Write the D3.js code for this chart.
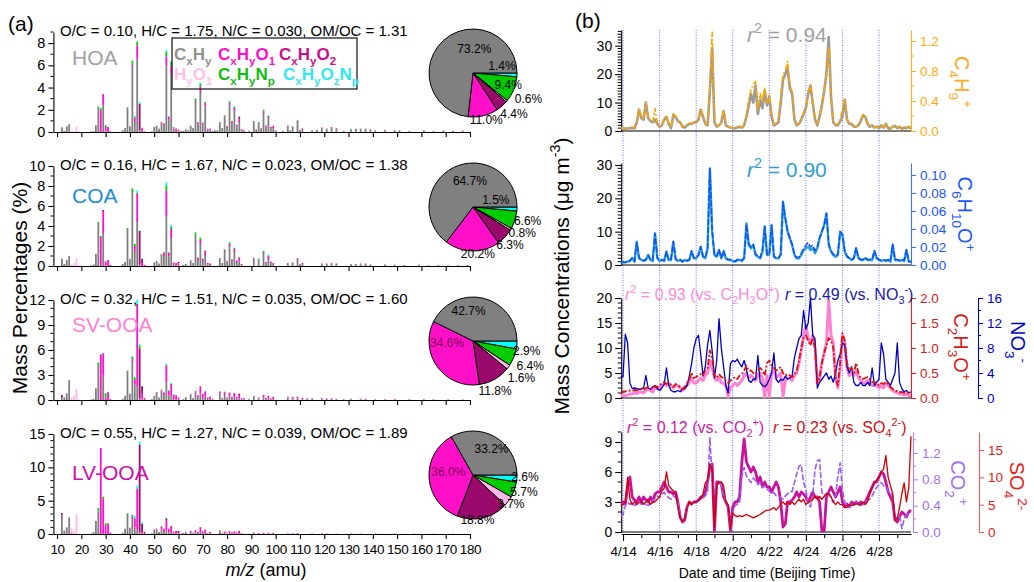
<!DOCTYPE html>
<html>
<head>
<meta charset="utf-8">
<script src="https://cdn.jsdelivr.net/npm/d3@7"></script>
<style>
html,body{margin:0;padding:0;background:#fff;}
svg text{font-family:"Liberation Sans",Arial,Helvetica,sans-serif;}
</style>
</head>
<body>
<svg id="chart" width="1034" height="582"></svg>
<script>
// ================= DATA : panel (a) =================
const families = ["CxHy","CxHyO1","CxHyO2","HyO1","CxHyNp","CxHyOzNp"];
const famColors = ["#808080","#ff10c8","#9a0a6c","#ffb8e8","#00cc00","#00ffff"];
const factors = ["HOA","COA","SV-OOA","LV-OOA"];
const factorColors = ["#a0a0a0","#1a8fd0","#ff80d5","#cc10a8"];
const statsText = [
  "O/C = 0.10, H/C = 1.75, N/C = 0.030, OM/OC = 1.31",
  "O/C = 0.16, H/C = 1.67, N/C = 0.023, OM/OC = 1.38",
  "O/C = 0.32, H/C = 1.51, N/C = 0.035, OM/OC = 1.60",
  "O/C = 0.55, H/C = 1.27, N/C = 0.039, OM/OC = 1.89"];
const yMaxA = [9, 10, 12, 15];
const yTicksA = [[0,2,4,6,8],[0,2,4,6,8,10],[0,3,6,9,12],[0,5,10,15]];
const mzTicks = [10,20,30,40,50,60,70,80,90,100,110,120,130,140,150,160,170,180];
// pie fractions (%) in family order
const piePct = [
  [73.2,11.0,4.4,0.6,9.4,1.4],
  [64.7,20.2,6.3,0.8,6.6,1.5],
  [42.7,34.6,11.8,1.6,6.4,2.9],
  [33.2,36.0,18.8,3.7,5.7,2.6]];
// spectra rows: [m/z, CxHy, CxHyO1, CxHyO2, HyO1, CxHyNp, CxHyOzNp]
const hoaSpec = [
[12,0.40,0,0.02,0,0,0],[13,0.10,0,0,0,0,0],[14,0.45,0,0.03,0,0.02,0],[15,0.70,0,0.02,0,0,0],[16,0,0,0,0.05,0,0],[17,0,0,0,0.1,0,0],[18,0,0,0,0.5,0,0],[19,0,0,0,0.05,0,0],
[24,0.05,0,0,0,0,0],[25,0.08,0,0,0,0,0],[26,0.60,0,0,0,0.02,0],[27,2.20,0,0,0,0.1,0],[28,0,2.0,0,0,0.15,0.02],[29,2.40,1.0,0.02,0,0,0],[30,0.10,0.35,0,0,0.15,0.02],[31,0,0.45,0,0,0,0.02],[32,0,0.05,0,0,0,0],
[37,0.15,0,0,0,0,0],[38,0.35,0,0,0,0,0],[39,2.20,0,0,0,0.03,0],[40,0.45,0.05,0,0,0.02,0],[41,6.0,0.15,0,0,0.25,0.02],[42,0.9,0.4,0,0,0.1,0.02],[43,6.6,1.2,0.02,0,0.3,0.05],[44,0.1,0.05,2.4,0,0,0.12],[45,0.05,0.25,0.05,0,0,0.05],[46,0,0.05,0.02,0,0,0],
[49,0.05,0,0,0,0,0],[50,0.45,0,0,0,0,0],[51,0.55,0,0,0,0.02,0],[52,0.30,0,0,0,0,0],[53,0.85,0.05,0,0,0,0],[54,0.6,0.15,0,0,0.02,0],[55,6.0,0.8,0.02,0,0.4,0.15],[56,1.1,0.25,0,0,0.05,0],[57,5.2,0.8,0,0,0.35,0.05],[58,0.3,0.1,0,0,0.05,0],[59,0.05,0.2,0.05,0,0,0],[60,0.05,0.1,0.05,0,0,0],
[61,0,0,0.05,0,0,0],[62,0.1,0,0,0,0,0],[63,0.25,0,0,0,0,0],[64,0.15,0,0,0,0,0],[65,0.55,0,0,0,0.02,0],[66,0.35,0,0,0,0,0],[67,2.7,0.1,0,0,0.2,0],[68,0.7,0.15,0,0,0.05,0],[69,3.6,0.5,0,0,0.25,0.1],[70,0.6,0.2,0,0,0.05,0],[71,2.3,0.3,0,0,0.1,0],[72,0.2,0.1,0,0,0,0],[73,0.15,0.1,0.05,0,0,0],
[74,0.1,0,0,0,0,0],[75,0.15,0,0,0,0,0],[76,0.15,0,0,0,0,0],[77,0.8,0.05,0,0,0.05,0],[78,0.35,0,0,0,0,0],[79,1.35,0.05,0,0,0.1,0],[80,0.5,0.05,0,0,0,0],[81,2.4,0.2,0,0,0.15,0.05],[82,0.8,0.15,0,0,0.05,0],[83,1.9,0.25,0,0,0.1,0.05],[84,0.5,0.15,0,0,0,0],[85,0.9,0.3,0.15,0,0.05,0],[86,0.15,0.1,0,0,0,0],[87,0.1,0.05,0,0,0,0],
[89,0.1,0,0,0,0,0],[91,0.95,0,0,0,0.05,0],[92,0.25,0,0,0,0,0],[93,0.8,0.05,0,0,0.05,0],[94,0.3,0.05,0,0,0,0],[95,1.7,0.15,0,0,0.15,0],[96,0.5,0.1,0,0,0,0],[97,1.2,0.15,0,0,0.1,0.05],[98,0.35,0.1,0,0,0,0],[99,0.35,0.15,0.05,0,0,0],[100,0.1,0.05,0,0,0,0],
[103,0.1,0,0,0,0,0],[105,0.5,0.05,0,0,0.05,0],[106,0.15,0,0,0,0,0],[107,0.45,0.05,0,0,0,0],[109,0.9,0.1,0,0,0.05,0],[110,0.2,0,0,0,0,0],[111,0.3,0.05,0,0,0,0],[115,0.15,0,0,0,0,0],[117,0.2,0,0,0,0,0],[119,0.35,0.05,0,0,0,0],[121,0.3,0,0,0,0,0.02],[123,0.4,0.05,0,0,0,0],[125,0.3,0.05,0,0,0,0],
[128,0.1,0,0,0,0,0],[131,0.25,0,0,0,0,0.05],[133,0.3,0,0,0,0,0],[135,0.25,0.05,0,0,0,0],[137,0.3,0,0,0,0,0],[139,0.2,0.05,0,0,0,0],[141,0.15,0,0,0,0,0],[145,0.15,0.05,0,0,0,0],[149,0.1,0.05,0,0,0,0],[151,0.15,0,0,0,0,0],[155,0.1,0,0,0,0,0],[161,0.1,0.05,0,0,0,0],[165,0.1,0,0,0,0,0],[169,0.08,0.05,0,0,0,0],[173,0.1,0,0,0,0,0],[177,0.08,0.05,0,0,0,0]];
const coaSpec = [
[12,0.7,0,0.03,0,0,0],[13,0.2,0,0,0,0,0],[14,0.55,0,0.05,0,0,0],[15,1.0,0,0,0,0,0],[16,0,0,0,0.15,0,0],[17,0,0,0,0.3,0,0],[18,0,0,0,0.75,0,0],[19,0,0,0,0.05,0,0],[20,0,0,0,0.1,0,0],[24,0.05,0,0,0,0,0],[25,0.15,0,0,0,0,0],
[26,1.2,0,0,0,0.02,0],[27,4.3,0,0,0,0.1,0],[28,0,2.9,0,0,0.1,0],[29,3.3,2.2,0.1,0,0,0],[30,0,0.45,0,0,0.05,0],[31,0,0.6,0,0,0,0.02],[32,0,0.1,0,0,0,0],
[37,0.2,0,0,0,0,0],[38,0.4,0,0,0,0,0],[39,3.7,0,0,0,0.1,0],[40,0.65,0.05,0,0,0.02,0],[41,7.4,0,0,0,0.35,0],[42,1.5,0.5,0,0,0.2,0.02],[43,4.4,2.8,0.05,0,0.1,0.2],[44,0.1,0.1,3.3,0,0,0.05],[45,0,0.3,0.4,0,0,0.05],[46,0,0.1,0.02,0,0,0],
[50,0.35,0,0,0,0,0],[51,0.5,0,0,0,0.02,0],[52,0.25,0,0,0,0,0],[53,1.1,0.05,0,0,0.05,0],[54,1.0,0.35,0,0,0.05,0],[55,5.0,2.5,0.05,0,0.5,0.3],[56,1.0,0.3,0,0,0.05,0],[57,2.8,0.9,0,0,0.2,0.2],[58,0.2,0.15,0,0,0,0],[59,0.05,0.2,0.05,0,0,0],[60,0.05,0.2,0.15,0,0,0],
[62,0.1,0,0,0,0,0],[63,0.2,0,0,0,0,0],[65,0.5,0.05,0,0,0.02,0],[66,0.3,0,0,0,0,0],[67,3.0,0.05,0,0,0.3,0],[68,0.6,0.2,0,0,0.05,0],[69,2.2,0.4,0,0,0.2,0.05],[70,0.5,0.2,0,0,0.05,0],[71,1.1,0.4,0,0,0.05,0],[72,0.15,0.15,0,0,0,0],[73,0.1,0.1,0.05,0,0,0],
[77,0.7,0.05,0,0,0.05,0],[78,0.3,0,0,0,0,0],[79,1.4,0.1,0,0,0.15,0],[80,0.45,0.05,0,0,0,0],[81,2.0,0.2,0,0,0.15,0.05],[82,0.5,0.15,0,0,0.05,0],[83,1.4,0.3,0,0,0.1,0.05],[84,0.4,0.15,0,0,0,0],[85,0.45,0.3,0.1,0,0.05,0],[86,0.1,0.1,0,0,0,0],
[91,0.8,0,0,0,0.02,0],[93,0.6,0.05,0,0,0.1,0],[95,1.2,0.1,0,0,0.2,0],[96,0.3,0.1,0,0,0,0],[97,0.7,0.3,0,0,0,0.15],[98,0.3,0.15,0,0,0,0],[99,0.1,0.15,0.05,0,0,0],
[105,0.3,0,0,0,0,0],[107,0.3,0.05,0,0,0,0],[109,0.6,0.15,0,0,0.05,0],[110,0.15,0.05,0,0,0,0],[111,0.2,0.1,0,0,0,0],[119,0.2,0.05,0,0,0,0],[121,0.2,0.05,0,0,0,0],[123,0.25,0.05,0,0,0,0],[125,0.2,0.05,0,0,0,0.02],[131,0.15,0.05,0,0,0,0],[133,0.2,0,0,0,0,0],[135,0.15,0.1,0,0,0,0],[137,0.2,0.05,0,0,0,0],[139,0.1,0.05,0,0,0,0],[145,0.1,0.05,0,0,0,0],[149,0.08,0.05,0,0,0,0],[153,0.1,0,0,0,0,0],[159,0.08,0.05,0,0,0,0],[163,0.08,0,0,0,0,0],[167,0.06,0.05,0,0,0,0],[171,0.08,0,0,0,0,0],[175,0.06,0.04,0,0,0,0],[179,0.05,0.05,0,0,0,0]];
const svSpec = [
[12,0.3,0,0.3,0,0,0],[13,0.3,0,0,0,0,0],[14,0.8,0,0,0,0,0],[15,2.4,0,0,0,0,0],[16,0,0,0,0.3,0,0],[17,0,0,0,0.5,0,0],[18,0,0,0,1.3,0,0],[19,0,0,0,0.05,0,0],
[24,0.05,0,0,0,0,0],[25,0.15,0,0,0,0,0],[26,1.3,0,0,0,0.1,0],[27,4.1,0,0,0,0.4,0],[28,0,5.4,0,0,0.1,0],[29,2.9,2.6,0.1,0,0,0],[30,0,0.3,0,0,0.5,0.05],[31,0,0.95,0,0,0,0.05],[32,0,0.1,0,0,0,0],
[37,0.15,0,0,0,0,0],[38,0.5,0,0,0,0,0],[39,3.5,0,0,0,0.05,0],[40,0.6,0.1,0,0,0.05,0],[41,4.6,0.3,0,0,0.3,0.05],[42,1.9,0.5,0,0,0.3,0.1],[43,1.6,9.6,0.3,0,0.05,0.45],[44,0.1,0.1,6.0,0,0.3,0.2],[45,0.05,0.7,0.9,0,0,0.05],[46,0,0.1,0.1,0,0,0],
[49,0.1,0,0,0,0,0],[50,0.5,0,0,0,0,0],[51,0.9,0.05,0,0,0.02,0],[52,0.3,0,0,0,0,0],[53,1.0,0.15,0,0,0.1,0],[54,0.6,0.3,0,0,0,0],[55,2.1,2.0,0.05,0,0.1,0.1],[56,0.5,0.6,0,0,0.05,0.05],[57,0.6,1.2,0.1,0,0.05,0.1],[58,0.1,0.5,0,0,0.05,0.05],[59,0.05,0.4,0.1,0,0,0],[60,0.05,0.15,0.1,0,0,0],
[62,0.1,0,0,0,0,0],[63,0.3,0.05,0,0,0,0],[65,0.6,0.05,0,0,0.05,0],[66,0.2,0.05,0,0,0,0],[67,0.9,0.15,0,0,0.05,0],[68,0.3,0.25,0,0,0,0],[69,0.8,0.8,0,0,0.05,0.05],[70,0.2,0.5,0,0,0.05,0],[71,0.4,0.6,0.05,0,0,0.05],[72,0.1,0.2,0,0,0,0],[73,0.1,0.2,0.1,0,0,0],
[74,0.1,0.05,0,0,0,0],[77,0.8,0.2,0,0,0.05,0],[78,0.2,0.05,0,0,0,0],[79,0.6,0.3,0,0,0.1,0],[80,0.2,0.1,0,0,0,0],[81,0.4,0.45,0,0,0.05,0],[82,0.15,0.2,0,0,0,0],[83,0.3,0.5,0.05,0,0,0],[84,0.1,0.2,0.05,0,0,0],[85,0.2,0.4,0.15,0,0,0],[86,0.05,0.15,0,0,0,0],[87,0.05,0.1,0.05,0,0,0],
[89,0.1,0,0,0,0,0],[91,0.45,0.05,0,0,0,0],[93,0.2,0.1,0,0,0,0],[95,0.3,0.3,0,0,0,0],[96,0.1,0.15,0,0,0,0],[97,0.2,0.3,0,0,0,0],[98,0.1,0.1,0,0,0,0],[99,0.05,0.2,0.1,0,0,0],
[105,0.3,0.1,0,0,0,0],[107,0.15,0.2,0,0,0,0],[109,0.2,0.2,0,0,0,0],[111,0.1,0.15,0,0,0,0],[113,0.05,0.1,0.05,0,0,0],[115,0.15,0.05,0,0,0,0],[119,0.15,0.1,0,0,0,0],[121,0.15,0.05,0,0,0,0],[123,0.1,0.1,0,0,0,0],[125,0.1,0.05,0,0,0,0],[128,0.1,0,0,0,0,0],[131,0.1,0.05,0,0,0,0],[135,0.05,0.1,0,0,0,0],[137,0.1,0.05,0,0,0,0],[141,0.05,0.05,0,0,0,0],[145,0.05,0.05,0,0,0,0],[149,0.05,0.08,0,0,0,0],[155,0.05,0.05,0,0,0,0],[161,0.05,0.05,0,0,0,0],[165,0.05,0.04,0,0,0,0],[171,0.04,0.04,0,0,0,0],[177,0.04,0.04,0,0,0,0]];
const lvSpec = [
[12,2.9,0,0.25,0,0,0],[13,0.5,0,0,0,0,0],[14,1.0,0,0,0,0,0],[15,2.5,0,0,0,0,0],[16,0,0,0.1,0.7,0,0],[17,0,0,0,0.5,0,0],[18,0,0,0,2.9,0,0],[19,0,0,0,0.05,0,0],
[24,0.05,0,0,0,0,0],[25,0.3,0,0,0,0,0],[26,1.8,0,0,0,0.15,0],[27,3.4,0,0,0,0.5,0],[28,0,12.9,0,0,0,0],[29,0,5.3,0,0,0.3,0],[30,0,1.2,0,0,0.4,0],[31,0,1.6,0,0,0,0.05],[32,0,0.2,0,0,0,0],
[37,0.2,0,0,0,0,0],[38,0.8,0,0,0,0,0],[39,3.0,0,0,0,0.1,0],[40,0.8,0.1,0,0,0.05,0],[41,2.2,0.4,0,0,0.25,0.05],[42,1.0,1.3,0,0,0.1,0.3],[43,0.5,6.2,0.1,0,0.05,0.4],[44,0.1,0.1,13.2,0,0,0.45],[45,0.05,0.2,1.3,0,0,0.2],[46,0,0.1,0.2,0,0,0],
[49,0.1,0,0,0,0,0],[50,0.6,0.05,0,0,0,0],[51,0.7,0.1,0,0,0,0],[52,0.3,0,0,0,0,0],[53,0.7,0.4,0,0,0.1,0],[54,0.3,0.5,0,0,0,0],[55,0.6,1.5,0.2,0,0.1,0.05],[56,0.2,0.5,0.1,0,0,0],[57,0.3,0.8,0.1,0,0,0.05],[58,0.05,0.3,0,0,0,0],[59,0.05,0.2,0.2,0,0,0],[60,0.05,0.1,0.3,0,0,0],
[62,0.05,0.1,0,0,0,0],[63,0.2,0.1,0,0,0,0],[65,0.3,0.15,0,0,0,0],[66,0.1,0.1,0,0,0,0],[67,0.3,0.25,0,0,0.05,0],[68,0.1,0.2,0,0,0,0],[69,0.3,0.6,0.1,0,0,0],[70,0.1,0.3,0,0,0,0],[71,0.15,0.4,0.1,0,0,0],[72,0.05,0.1,0,0,0,0],[73,0.05,0.15,0.1,0,0,0],
[77,0.4,0.1,0,0,0.1,0],[78,0.1,0.05,0,0,0,0],[79,0.2,0.2,0,0,0,0],[80,0.1,0.1,0,0,0,0],[81,0.15,0.25,0.05,0,0,0],[82,0.05,0.2,0,0,0,0],[83,0.1,0.25,0.05,0,0,0],[84,0.05,0.15,0.05,0,0,0],[85,0.05,0.2,0.2,0,0,0],[86,0.02,0.1,0,0,0,0],
[89,0.05,0,0,0,0,0],[91,0.2,0.05,0,0,0,0],[93,0.05,0.1,0,0,0,0],[95,0.1,0.1,0,0,0,0],[97,0.05,0.15,0,0,0,0],[99,0.03,0.1,0.05,0,0,0],
[105,0.1,0.05,0,0,0,0],[107,0.05,0.08,0,0,0,0],[109,0.05,0.1,0,0,0,0],[115,0.08,0,0,0,0,0.02],[119,0.05,0.05,0,0,0,0],[121,0.04,0.05,0,0,0,0],[125,0.03,0.05,0,0,0,0],[131,0.05,0.03,0,0,0,0],[135,0.03,0.05,0,0,0,0],[141,0.03,0.04,0,0,0,0],[149,0.03,0.05,0,0,0,0],[157,0.02,0.04,0,0,0,0],[165,0.02,0.04,0,0,0,0],[173,0.02,0.03,0,0,0,0]];
const spectra = [hoaSpec, coaSpec, svSpec, lvSpec];

// ================= DATA : panel (b) =================
// 3-hourly samples, first at 4/13 21:00, then 8 per day from 4/14 00:00
const sampleStepDays = 0.125, sampleStartDay = -0.125;
const tsHOA = [1.0,
 1.0,0.8,0.9,1.0,1.1,0.9,3.0,7.5,  4.5,4.0,10.0,4.5,3.5,3.0,4.0,2.5,
 1.5,2.0,4.0,5.0,2.5,1.0,5.5,5.0,  3.5,3.0,1.5,1.2,2.0,2.5,2.5,3.0,
 3.0,4.0,7.5,5.0,2.5,2.0,14,29,    3.0,1.5,2.0,3.0,7.0,2.0,1.5,1.2,
 1.0,1.0,1.2,1.5,1.2,2.0,5.0,9.0,  13,10,16,6,11,8,14,9,
 12,5,2,2.5,3,10,18,20,            22,15,13,4,2,2.5,4,6,
 8,13,16,10,4,2,5,9,               14,20,33,12,3,2,2,3.5,
 5,11,4,2.5,2.5,1.5,1.5,2,         3.5,5.5,5,2.5,1.5,2,1.2,1.5,
 1.0,2.0,1.2,2.5,1.0,0.8,1.5,1.8,  1.0,1.5,0.8,1.2,1.0,1.5,0.9];
const tsC4H9 = [0.04,
 0.04,0.03,0.04,0.04,0.05,0.04,0.12,0.30,  0.18,0.16,0.38,0.17,0.14,0.12,0.30,0.10,
 0.06,0.08,0.16,0.20,0.10,0.05,0.23,0.20,  0.14,0.12,0.06,0.05,0.08,0.10,0.10,0.12,
 0.12,0.16,0.30,0.20,0.10,0.09,0.60,1.32,  0.12,0.06,0.08,0.12,0.28,0.08,0.06,0.05,
 0.04,0.04,0.05,0.06,0.05,0.09,0.22,0.42,  0.55,0.62,0.66,0.28,0.50,0.40,0.58,0.38,
 0.48,0.22,0.09,0.10,0.13,0.45,0.75,0.80,  0.93,0.62,0.52,0.18,0.09,0.10,0.16,0.24,
 0.32,0.52,0.62,0.40,0.16,0.09,0.20,0.36,  0.55,0.78,1.12,0.45,0.12,0.09,0.09,0.15,
 0.30,0.42,0.16,0.10,0.10,0.06,0.06,0.08,  0.14,0.22,0.20,0.10,0.06,0.08,0.05,0.06,
 0.04,0.08,0.05,0.10,0.04,0.03,0.06,0.07,  0.04,0.06,0.03,0.05,0.04,0.06,0.04];
const tsCOA = [0.8,
 0.8,0.8,1.0,1.2,2.0,1.0,7.0,2.0,  1.5,1.2,1.5,3.0,1.5,1.2,9.5,2.0,
 1.2,1.5,1.2,4.0,1.5,1.5,7.0,1.8,  1.2,1.5,1.0,1.5,1.2,1.5,4.0,2.0,
 2.0,3.0,5.5,2.5,2.0,5.0,29,10,    3.0,2.5,4.5,2.0,4.0,2.0,1.5,1.5,
 1.2,1.0,1.5,1.5,1.2,2.0,12.5,6.0, 5.0,6.0,3.0,2.5,2.0,4.0,11.5,3.0,
 3.0,12.0,2.5,2.0,2.0,3.0,19,14,   10,8.0,6.0,3.0,2.0,2.0,3.0,4.5,
 5.0,5.5,4.5,5.0,3.5,5.0,8.0,10,   12,15.5,6.0,4.0,3.0,2.5,3.0,10,
 9.0,4.0,2.5,2.0,1.5,2.0,5.0,2.0,  1.5,1.5,2.0,1.5,1.5,1.5,4.0,2.0,
 1.5,1.2,1.5,1.2,1.5,1.0,6.0,1.5,  1.5,1.2,1.5,1.2,4.5,1.0,1.0];
const tsC6H10O = [0.003,
 0.003,0.003,0.004,0.005,0.008,0.004,0.025,0.008,  0.006,0.005,0.006,0.011,0.006,0.005,0.035,0.008,
 0.005,0.006,0.005,0.015,0.006,0.006,0.026,0.007,  0.005,0.006,0.004,0.006,0.005,0.006,0.016,0.008,
 0.008,0.011,0.020,0.010,0.008,0.019,0.107,0.038,  0.011,0.010,0.017,0.008,0.016,0.008,0.006,0.006,
 0.005,0.004,0.006,0.006,0.005,0.008,0.045,0.024,  0.020,0.023,0.012,0.010,0.008,0.016,0.043,0.012,
 0.012,0.044,0.010,0.008,0.008,0.012,0.070,0.052,  0.038,0.030,0.023,0.012,0.008,0.009,0.013,0.018,
 0.022,0.025,0.020,0.022,0.016,0.020,0.030,0.037,  0.044,0.057,0.024,0.016,0.012,0.010,0.012,0.037,
 0.034,0.016,0.010,0.008,0.006,0.008,0.019,0.008,  0.006,0.006,0.008,0.006,0.006,0.006,0.016,0.008,
 0.006,0.005,0.006,0.005,0.006,0.004,0.023,0.006,  0.006,0.005,0.006,0.005,0.017,0.004,0.004];
const tsSVOOA = [0.5,
 0.5,0.4,0.6,0.8,0.8,1.0,0.9,1.2,  1.2,1.0,1.5,1.8,1.5,1.2,2.0,1.8,
 2.0,2.5,2.8,2.5,3.0,2.5,2.0,2.5,  2.5,2.0,1.5,2.0,2.5,3.0,4.0,3.0,
 3.0,3.5,4.0,3.5,4.5,5.0,7.5,6.0,  4.0,3.5,4.0,3.0,3.0,2.5,0.2,2.0,
 2.5,3.0,2.5,3.0,3.5,4.5,5.0,4.0,  4.5,4.0,3.5,4.5,5.0,4.0,0.2,4.5,
 0.3,5.0,5.5,4.0,4.5,5.0,0.3,3.5,  4.0,4.0,3.5,4.5,5.0,7.0,9.5,12.5,
 14.5,12.0,11.0,12.5,10.0,3.0,4.0,7.0,  9.0,11.0,19.5,12.5,11.0,4.0,2.0,6.0,
 12.5,11.0,6.0,4.5,5.0,4.5,5.5,4.0,  3.5,3.0,3.0,3.5,3.0,2.5,2.5,2.5,
 2.0,2.5,2.0,3.0,2.5,2.0,1.5,1.2,  1.0,0.8,0.8,0.6,0.8,0.5,0.5];
const tsC2H3O = [0.12,
 0.12,0.13,0.14,0.15,0.14,0.16,0.15,0.17,  0.18,0.16,0.20,0.22,0.20,0.18,0.24,0.22,
 0.25,0.30,0.32,0.28,0.30,0.26,0.22,0.28,  0.25,0.22,0.18,0.22,0.30,0.38,0.50,0.40,
 0.42,0.45,0.48,0.45,0.55,0.60,0.95,0.80,  0.45,0.40,0.48,0.42,0.40,0.35,0.30,0.35,
 0.38,0.42,0.38,0.45,0.48,0.55,0.65,0.55,  0.55,0.50,0.48,0.55,0.60,0.55,0.45,0.70,
 0.75,0.65,0.60,0.55,0.58,0.62,0.50,0.45,  0.48,0.45,0.42,0.48,0.55,0.75,1.00,1.20,
 1.25,1.15,1.05,1.20,1.00,0.30,0.40,0.70,  0.90,1.05,1.20,1.15,1.00,0.40,0.25,0.70,
 1.30,1.15,0.70,0.55,0.60,0.50,0.70,0.50,  0.40,0.38,0.40,0.42,0.38,0.32,0.30,0.32,
 0.25,0.30,0.28,0.32,0.28,0.22,0.18,0.15,  0.14,0.12,0.12,0.10,0.12,0.10,0.10];
const tsNO3 = [3.4,
 3.4,10.2,8.8,2.4,1.5,1.6,1.5,1.4,  1.5,1.6,3.6,1.6,1.4,1.8,2.0,1.5,
 1.2,1.6,2.2,4.8,2.0,1.2,1.0,1.0,   1.2,1.0,1.4,1.5,2.0,3.5,5.5,8.0,
 9.5,10.0,7.0,3.5,5.0,8.5,10.8,7.5, 3.2,6.0,12.7,8.0,5.0,2.0,0.8,5.5,
 6.0,5.8,6.2,5.5,5.0,6.0,4.5,2.8,   2.5,3.0,3.0,6.8,2.5,2.0,1.8,2.2,
 3.0,4.0,7.2,3.0,2.5,3.0,2.8,3.5,   3.0,3.2,3.5,6.5,8.0,9.5,10.0,14.0,
 11.0,12.0,16.0,10.0,9.5,1.6,2.5,3.0,  3.5,4.0,3.0,3.5,2.5,4.0,6.0,7.0,
 8.8,8.5,5.0,4.0,5.0,2.5,2.0,2.0,   2.5,2.0,2.0,2.5,2.0,4.8,2.0,2.5,
 3.0,8.8,7.0,3.0,2.5,2.0,3.0,4.0,   8.8,2.5,1.5,1.0,1.2,0.8,1.0];
const tsLVOOA = [3.0,
 3.0,2.8,4.5,5.5,3.5,3.2,3.0,3.5,  3.0,3.5,3.2,3.0,3.5,3.0,3.8,4.0,
 4.0,4.5,5.0,4.5,4.0,4.0,3.8,4.0,  3.0,1.5,1.0,1.2,2.5,3.0,2.8,3.0,
 3.0,3.2,3.5,3.5,4.0,5.0,6.5,6.8,  0.1,5.0,5.0,4.8,3.5,3.0,2.5,0.1,
 2.5,3.0,3.0,3.5,7.0,9.3,7.0,6.5,  6.0,6.5,6.0,5.0,5.5,4.5,5.0,4.5,
 4.5,4.0,4.5,5.0,4.5,3.0,0.5,0.8,  3.0,3.0,3.2,3.5,4.0,3.5,4.0,3.8,
 3.5,3.0,3.5,4.0,3.5,3.5,3.0,0.1,  0.1,3.5,4.0,4.5,4.0,3.5,4.0,4.5,
 3.0,2.5,2.8,2.5,3.0,2.8,3.0,2.8,  3.0,2.8,3.0,3.5,4.0,4.5,5.0,5.0,
 5.5,6.0,5.8,5.0,4.0,3.5,3.0,1.2,  1.0,1.5,2.0,1.8,1.5,2.0,2.2];
const tsCO2 = [0.25,
 0.26,0.40,0.45,0.42,0.45,0.40,0.42,0.45,  0.42,0.45,0.42,0.40,0.45,0.48,0.50,0.55,
 0.52,0.58,0.60,0.55,0.52,0.50,0.55,0.52,  0.45,0.25,0.18,0.20,0.40,0.45,0.42,0.45,
 0.45,0.48,0.50,0.52,0.55,0.60,1.43,0.80,  0.60,0.70,0.75,0.72,0.55,0.45,0.40,0.03,
 0.30,0.40,0.42,0.45,0.85,0.98,0.85,0.80,  0.75,0.82,0.78,0.72,0.75,0.68,0.70,0.65,
 0.62,0.58,0.60,0.55,0.55,0.52,0.50,0.55,  0.58,0.60,0.62,0.75,0.88,1.00,1.02,0.75,
 0.65,0.42,0.38,0.55,0.95,1.08,1.10,0.60,  0.55,0.58,0.62,0.50,0.45,0.55,0.85,1.05,
 0.65,0.45,0.40,0.38,0.42,0.40,0.45,0.42,  0.40,0.42,0.45,0.48,0.50,0.55,0.62,0.68,
 0.72,0.75,0.70,0.68,0.62,0.60,0.55,0.20,  0.22,0.25,0.05,0.20,0.25,0.28,0.30];
const tsSO4 = [5.0,
 5.0,5.5,10.0,6.0,5.0,5.5,5.0,5.5,  5.5,5.0,5.5,6.0,5.0,5.5,5.5,6.0,
 6.5,7.5,8.0,11.0,8.5,8.0,7.5,7.0,  4.5,2.5,2.0,2.5,4.5,5.5,5.0,5.5,
 5.5,5.8,6.0,7.0,9.0,9.5,12.5,11.5, 1.0,8.5,9.0,9.2,8.5,5.5,5.0,0.5,
 3.5,3.0,2.8,3.0,2.8,3.0,3.2,3.0,   2.8,2.6,2.8,3.0,3.2,3.5,3.8,4.0,
 4.0,4.2,4.5,4.0,4.5,5.0,5.5,5.0,   5.5,5.0,5.5,5.0,5.5,6.0,5.5,6.0,
 5.0,5.5,5.5,6.0,6.5,6.0,6.5,6.0,   6.5,7.0,7.0,6.5,5.5,5.0,5.5,5.0,
 5.0,4.5,4.5,5.0,4.8,5.0,5.2,5.0,   5.0,5.5,5.0,5.5,7.0,8.0,9.0,9.5,
 10.0,11.0,11.5,14.0,10.0,8.5,7.0,2.2,  2.5,4.5,7.0,9.0,5.5,8.0,17.5];
const dateTickDays = [0,2,4,6,8,10,12,14];
const dateTickLabels = ["4/14","4/16","4/18","4/20","4/22","4/24","4/26","4/28"];
const r2Texts = ["0.94","0.90","0.93","0.12"];
const rTexts = ["0.49","0.23"];

// ================= DRAWING =================
const FONT = '"Liberation Sans", Arial, Helvetica, sans-serif';
const svg = d3.select("#chart");

function rich(sel, parts, size) {
  let cur = 0;
  parts.forEach(p => {
    const t = p[0], k = p[1] || "n";
    let off = 0, fs = size;
    if (k === "sub") { off = size * 0.28; fs = size * 0.68; }
    else if (k === "sup") { off = -size * 0.42; fs = size * 0.68; }
    const ts = sel.append("tspan").attr("dy", off - cur).attr("font-size", fs).text(t);
    if (k === "i") ts.attr("font-style", "italic");
    cur = off;
  });
  return sel;
}
function styleAxis(g, color, labelColor, fs) {
  g.attr("font-family", FONT).attr("font-size", fs);
  g.select(".domain").attr("stroke", color).attr("stroke-width", 1.1);
  g.selectAll(".tick line").attr("stroke", color).attr("stroke-width", 1.1);
  g.selectAll(".tick text").attr("fill", labelColor);
}

// ---------- panel (a) ----------
svg.append("text").attr("x", 8).attr("y", 31).attr("font-size", 21).text("(a)");
const tops = [32, 166, 300, 434], PH = 100;
const xA = d3.scaleLinear().domain([8.5, 180]).range([53.4, 470]);
const stack = d3.stack().keys(d3.range(6));
const pieGen = d3.pie().sort(null).value(d => d.v).startAngle(Math.PI / 2).endAngle(Math.PI / 2 + 2 * Math.PI);
const R = 44;
const arc = d3.arc().innerRadius(0).outerRadius(R);
const pieOrder = [5, 4, 3, 2, 1, 0];
// label centres relative to the pie centre, in units of the radius
const pieLabelPos = [
  [[0.03,-0.55],[0.3,1.07],[0.93,0.93],[1.26,0.6],[0.8,0.28],[0.66,-0.17]],
  [[-0.07,-0.58],[0.11,1.07],[0.84,0.87],[1.12,0.6],[1.24,0.32],[0.52,-0.16]],
  [[-0.1,-0.68],[-0.59,0.04],[0.5,1.13],[1.1,0.84],[1.3,0.56],[1.22,0.22]],
  [[0.42,-0.6],[-0.56,-0.06],[0.1,1.02],[0.86,0.66],[1.16,0.38],[1.18,0.05]]];
const labelOffsets = [33, 37, 32, 46];

factors.forEach((f, k) => {
  const top = tops[k];
  const y = d3.scaleLinear().domain([0, yMaxA[k]]).range([top + PH, top]);
  const g = svg.append("g");
  // bars
  const rows = spectra[k].map(r => { const o = { mz: r[0] }; for (let j = 0; j < 6; j++) o[j] = r[j + 1]; return o; });
  const layers = stack(rows);
  layers.forEach((layer, j) => {
    g.append("g").selectAll("rect").data(layer.filter(d => d[1] - d[0] > 0)).join("rect")
      .attr("x", d => xA(d.data.mz) - 0.9).attr("width", 1.8)
      .attr("y", d => y(d[1])).attr("height", d => y(d[0]) - y(d[1]))
      .attr("fill", famColors[j]);
  });
  // axes
  const yAx = g.append("g").attr("transform", "translate(53.4,0)")
    .call(d3.axisLeft(y).tickValues(yTicksA[k]).tickSize(5).tickSizeOuter(0).tickPadding(3));
  styleAxis(yAx, "#000", "#000", 14.5);
  const minors = d3.range(0, yMaxA[k] + 0.001, 1).filter(v => !yTicksA[k].includes(v));
  g.append("g").selectAll("line").data(minors).join("line")
    .attr("x1", 50.4).attr("x2", 53.4).attr("y1", d => y(d)).attr("y2", d => y(d)).attr("stroke", "#000");
  const xAx = g.append("g").attr("transform", `translate(0,${top + PH})`)
    .call(d3.axisBottom(xA).tickValues(mzTicks).tickSize(5).tickSizeOuter(0).tickPadding(5)
      .tickFormat(k === 3 ? d3.format("d") : () => ""));
  styleAxis(xAx, "#000", "#000", 13.5);
  xAx.selectAll(".tick text").attr("letter-spacing", "-0.4");
  // stats text
  g.append("text").attr("x", 60).attr("y", top + 4).attr("font-size", 15).text(statsText[k]);
  // factor name
  g.append("text").attr("x", 72).attr("y", top + labelOffsets[k]).attr("font-size", 21)
    .attr("fill", factorColors[k]).text(f);
  // pie
  const cx = 473, cy = top + 41;
  const pieData = pieGen(pieOrder.map(j => ({ j, v: piePct[k][j] })));
  const pg = g.append("g").attr("transform", `translate(${cx},${cy})`);
  pg.selectAll("path").data(pieData).join("path").attr("d", arc)
    .attr("fill", d => famColors[d.data.j]).attr("stroke", "#000").attr("stroke-width", 1);
  piePct[k].forEach((v, j) => {
    const p = pieLabelPos[k][j];
    pg.append("text").attr("x", p[0] * R).attr("y", p[1] * R).attr("text-anchor", "middle")
      .attr("dominant-baseline", "central").attr("font-size", 12)
      .attr("fill", (j === 1 && v > 30) ? "#7a0058" : "#000")
      .text(v.toFixed(1) + "%");
  });
});
// legend box in HOA panel
const lg = svg.append("g");
lg.append("rect").attr("x", 172).attr("y", 38).attr("width", 185).attr("height", 51)
  .attr("fill", "none").attr("stroke", "#222").attr("stroke-width", 1.3);
const legendItems = [
  { x: 174, y: 60, c: "#909090", parts: [["C"],["x","sub"],["H"],["y","sub"]] },
  { x: 218, y: 60, c: "#ff10c8", parts: [["C"],["x","sub"],["H"],["y","sub"],["O"],["1","sub"]] },
  { x: 279, y: 60, c: "#c8108e", parts: [["C"],["x","sub"],["H"],["y","sub"],["O"],["2","sub"]] },
  { x: 174, y: 80, c: "#ffc0ea", parts: [["H"],["y","sub"],["O"],["1","sub"]] },
  { x: 218, y: 80, c: "#10c010", parts: [["C"],["x","sub"],["H"],["y","sub"],["N"],["p","sub"]] },
  { x: 283, y: 80, c: "#30e8f0", parts: [["C"],["x","sub"],["H"],["y","sub"],["O"],["z","sub"],["N"],["p","sub"]] }];
legendItems.forEach(it => {
  rich(lg.append("text").attr("x", it.x).attr("y", it.y).attr("fill", it.c).attr("font-weight", "bold"), it.parts, 17);
});
// axis titles (a)
svg.append("text").attr("transform", "translate(27,288) rotate(-90)").attr("text-anchor", "middle")
  .attr("font-size", 21).text("Mass Percentages (%)");
rich(svg.append("text").attr("x", 266).attr("y", 576).attr("text-anchor", "middle"),
  [["m/z","i"],["  (amu)"]], 18);

// ---------- panel (b) ----------
svg.append("text").attr("x", 575).attr("y", 28).attr("font-size", 21).text("(b)");
const xB = d3.scaleLinear().domain([-0.1, 15.75]).range([621.2, 911]);
const times = tsHOA.map((_, i) => sampleStartDay + i * sampleStepDays);
const XL = 621.2, XR = 911;

// vertical dotted day lines
svg.append("g").selectAll("line").data(dateTickDays).join("line")
  .attr("x1", d => xB(d)).attr("x2", d => xB(d)).attr("y1", 30).attr("y2", 532)
  .attr("stroke", "#6f6fff").attr("stroke-width", 1).attr("stroke-dasharray", "1,1.5");

function leftAxis(scale, ticks, minorStep, maxV) {
  const g = svg.append("g").attr("transform", `translate(${XL},0)`)
    .call(d3.axisLeft(scale).tickValues(ticks).tickSize(6).tickSizeOuter(0).tickPadding(3));
  styleAxis(g, "#000", "#000", 14);
  const minors = d3.range(0, maxV + 1e-6, minorStep).filter(v => !ticks.some(t => Math.abs(t - v) < 1e-6));
  g.append("g").selectAll("line").data(minors).join("line")
    .attr("x1", -3.5).attr("x2", 0).attr("y1", d => scale(d)).attr("y2", d => scale(d)).attr("stroke", "#000");
  svg.append("line").attr("x1", XL).attr("x2", XR).attr("y1", scale(0)).attr("y2", scale(0)).attr("stroke", "#000").attr("stroke-width", 1.1);
}
function rightAxis(xPos, scale, ticks, minors, color, labelColor, fmt) {
  const g = svg.append("g").attr("transform", `translate(${xPos},0)`)
    .call(d3.axisRight(scale).tickValues(ticks).tickSize(5).tickSizeOuter(0).tickPadding(4).tickFormat(fmt));
  styleAxis(g, color, labelColor, 13.5);
  g.append("g").selectAll("line").data(minors).join("line")
    .attr("x1", 0).attr("x2", 3).attr("y1", d => scale(d)).attr("y2", d => scale(d)).attr("stroke", color);
}
function seriesLine(scale, values, color, width, dash) {
  const line = d3.line().x((d, i) => xB(times[i])).y(d => scale(d));
  const p = svg.append("path").datum(values).attr("d", line).attr("fill", "none")
    .attr("stroke", color).attr("stroke-width", width).attr("stroke-linejoin", "round");
  if (dash) p.attr("stroke-dasharray", dash);
}
function rightLabel(x, y, parts, color) {
  rich(svg.append("text").attr("transform", `translate(${x},${y}) rotate(90)`).attr("text-anchor", "middle")
    .attr("fill", color), parts, 20);
}

// panel 1 : HOA vs C4H9+
const y1 = d3.scaleLinear().domain([0, 35.5]).range([131, 30]);
const y1r = d3.scaleLinear().domain([0, 1.347]).range([131, 30]);
leftAxis(y1, [0, 10, 20, 30], 1, 35);
rightAxis(XR, y1r, [0, 0.4, 0.8, 1.2], [0.2, 0.6, 1.0], "#ffb020", "#ffaa10", d3.format(".1f"));
seriesLine(y1, tsHOA, "#9a9a9a", 2.6);
seriesLine(y1r, tsC4H9, "#ffa500", 1.6, "6,2,2,2");
rightLabel(955, 82, [["C"],["4","sub"],["H"],["9","sub"],["+","sup"]], "#ffa820");
rich(svg.append("text").attr("x", 747).attr("y", 42).attr("fill", "#a0a0a0"),
  [["r","i"],["2","sup"],[" = " + r2Texts[0]]], 21);

// panel 2 : COA vs C6H10O+
const y2 = d3.scaleLinear().domain([0, 30.6]).range([265, 163]);
const y2r = d3.scaleLinear().domain([0, 0.1133]).range([265, 163]);
leftAxis(y2, [0, 10, 20, 30], 1, 30);
rightAxis(XR, y2r, [0, 0.02, 0.04, 0.06, 0.08, 0.10], [], "#4070ff", "#1a55ff", d3.format(".2f"));
seriesLine(y2, tsCOA, "#2aa3d4", 2.4);
seriesLine(y2r, tsC6H10O, "#0f4cff", 1.5, "6,2");
rightLabel(958, 214, [["C"],["6","sub"],["H"],["10","sub"],["O"],["+","sup"]], "#1a55ff");
rich(svg.append("text").attr("x", 747).attr("y", 177).attr("fill", "#2aa0d6"),
  [["r","i"],["2","sup"],[" = " + r2Texts[1]]], 21);

// panel 3 : SV-OOA vs C2H3O+ and NO3-
const y3 = d3.scaleLinear().domain([0, 20]).range([398, 298]);
const y3r = d3.scaleLinear().domain([0, 2]).range([398, 298]);
const y3n = d3.scaleLinear().domain([0, 16]).range([398, 298]);
leftAxis(y3, [0, 5, 10, 15, 20], 1, 20);
rightAxis(XR, y3r, [0, 0.5, 1.0, 1.5, 2.0], [], "#dd2020", "#d41a1a", d3.format(".1f"));
rightAxis(978, y3n, [0, 4, 8, 12, 16], [2, 6, 10, 14], "#0000cc", "#0000cc", d3.format("d"));
seriesLine(y3, tsSVOOA, "#ff80d2", 3);
seriesLine(y3n, tsNO3, "#0000c0", 1.3);
seriesLine(y3r, tsC2H3O, "#dd1010", 1.8, "6,2,2,2");
rightLabel(954, 347, [["C"],["2","sub"],["H"],["3","sub"],["O"],["+","sup"]], "#d41a1a");
rightLabel(1011, 342, [["NO"],["3","sub"],["-","sup"]], "#0000cc");
rich(svg.append("text").attr("x", 625).attr("y", 300).attr("fill", "#ff8ad8"),
  [["r","i"],["2","sup"],[" = " + r2Texts[2] + " (vs. C"],["2","sub"],["H"],["3","sub"],["O"],["+","sup"],[")"]], 16);
rich(svg.append("text").attr("x", 785).attr("y", 300).attr("fill", "#1a1aa8"),
  [["r","i"],[" = " + rTexts[0] + " (vs. NO"],["3","sub"],["-","sup"],[")"]], 16);

// panel 4 : LV-OOA vs CO2+ and SO4 2-
const y4 = d3.scaleLinear().domain([0, 10]).range([532, 432]);
const y4r = d3.scaleLinear().domain([0, 1.519]).range([532, 432]);
const y4s = d3.scaleLinear().domain([0, 18.3]).range([532, 432]);
leftAxis(y4, [0, 3, 6, 9], 1, 10);
rightAxis(XR + 2, y4r, [0, 0.4, 0.8, 1.2], [0.2, 0.6, 1.0, 1.4], "#b080f8", "#a070f0", d3.format(".1f"));
rightAxis(979, y4s, [0, 5, 10, 15], [], "#f06060", "#e02020", d3.format("d"));
seriesLine(y4, tsLVOOA, "#c8129c", 2.8);
seriesLine(y4r, tsCO2, "#9a5cf2", 1.6, "6,2");
seriesLine(y4s, tsSO4, "#d00000", 1.3);
rightLabel(951, 483, [["CO"],["2","sub"],["+","sup"]], "#a070f0");
rightLabel(1010, 486, [["SO"],["4","sub"],["2-","sup"]], "#e82020");
rich(svg.append("text").attr("x", 627).attr("y", 433).attr("fill", "#cc1aa8"),
  [["r","i"],["2","sup"],[" = " + r2Texts[3] + " (vs. CO"],["2","sub"],["+","sup"],[")"]], 16);
rich(svg.append("text").attr("x", 773).attr("y", 433).attr("fill", "#cc1010"),
  [["r","i"],[" = " + rTexts[1] + "  (vs. SO"],["4","sub"],["2-","sup"],[")"]], 16);

// date axis
const dAx = svg.append("g").attr("transform", "translate(0,534)")
  .call(d3.axisBottom(xB).tickValues(d3.range(0, 16)).tickSize(6).tickSizeOuter(0).tickPadding(6)
    .tickFormat(d => { const i = dateTickDays.indexOf(d); return i >= 0 ? dateTickLabels[i] : ""; }));
styleAxis(dAx, "#000", "#000", 13.5);
dAx.selectAll(".tick line").attr("y2", d => dateTickDays.includes(d) ? 7 : 4);
svg.append("text").attr("x", 767).attr("y", 578).attr("text-anchor", "middle").attr("font-size", 14)
  .text("Date and time (Beijing Time)");
rich(svg.append("text").attr("transform", "translate(569,276) rotate(-90)").attr("text-anchor", "middle"),
  [["Mass Concentrations (μg m"],["-3","sup"],[")"]], 21);
</script>
</body>
</html>
